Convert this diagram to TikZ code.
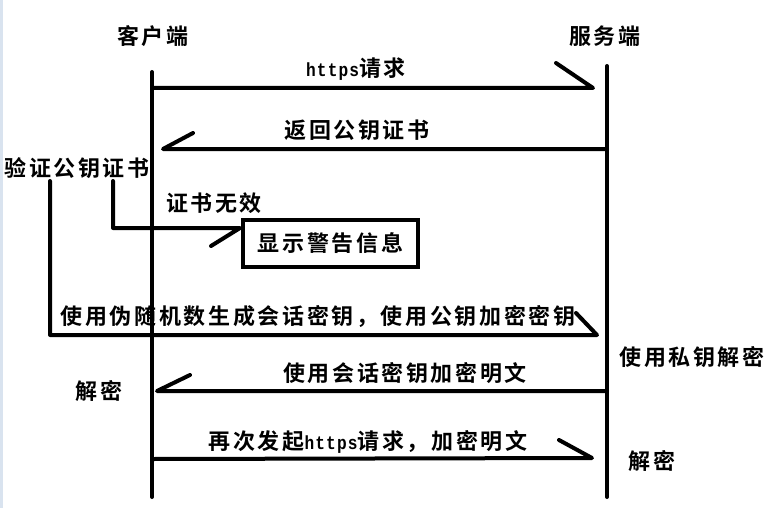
\documentclass[tikz,border=0pt]{standalone}
\usepackage{fontspec}
\setmainfont{Noto Sans CJK SC}[BoldFont=* Bold]
\newfontfamily\latinmono{Liberation Mono}[FakeStretch=0.85, LetterSpace=6]
\usetikzlibrary{positioning}
\definecolor{edgeblue}{HTML}{D9E3EF}
\tikzset{
  lbl/.style={font=\fontsize{22}{24}\selectfont\bfseries\addfontfeatures{LetterSpace=12}, inner sep=0pt},
  wire/.style={line width=4pt, line cap=round, line join=round},
  boxed/.style={draw, line width=3.5pt, minimum width=175pt, minimum height=47pt, inner sep=0pt}
}
\newcommand{\httpsword}{{\latinmono\fontsize{19}{22}\selectfont\bfseries https}}
\begin{document}
\begin{tikzpicture}[x=1pt,y=-1pt]
\useasboundingbox (0,0) rectangle (783,508);
\fill[white] (0,0) rectangle (783,508);
\fill[edgeblue] (0,0) rectangle (2.5,508);
% lifelines
\coordinate (ctop) at (152,72);
\coordinate (cbot) at (152,497);
\coordinate (stop) at (607,66);
\coordinate (sbot) at (607,497);
\draw[wire] (ctop) -- (cbot);
\draw[wire] (stop) -- (sbot);
\node[lbl] (client) at (153,36) {客户端};
\node[lbl] (server) at (605,36) {服务端};
% message 1
\coordinate (m1s) at (152,88);
\coordinate (m1e) at (593,88);
\coordinate (m1b) at (556,63);
\draw[wire] (m1s) -- (m1e) -- (m1b);
\node[lbl] (l1) at (356,69) {\httpsword 请求};
% message 2
\coordinate (m2s) at (607,149);
\coordinate (m2e) at (163,149);
\coordinate (m2b) at (193,133);
\draw[wire] (m2s) -- (m2e) -- (m2b);
\node[lbl] (l2) at (357,130) {返回公钥证书};
% verify
\node[lbl] (verify) at (77,168) {验证公钥证书};
\node[lbl] (invalid) at (214,203) {证书无效};
\node[boxed] (warn) at (330.5,243.5) {};
\node[lbl] (warntext) at (warn.center) {显示警告信息};
\coordinate (v2top) at (113,181);
\coordinate (v2corner) at (113,228);
\coordinate (v2end) at (240,228);
\coordinate (v2b) at (211,246);
\draw[wire] (v2top) -- (v2corner) -- (v2end) -- (v2b);
% message 3
\coordinate (v1top) at (50,181);
\coordinate (v1corner) at (50,335);
\coordinate (m3e) at (597,335);
\coordinate (m3b) at (576,313);
\draw[wire] (v1top) -- (v1corner) -- (m3e) -- (m3b);
\node[lbl] (l3) at (318,317) {使用伪随机数生成会话密钥，使用公钥加密密钥};
\node[lbl] (privdec) at (692,357) {使用私钥解密};
% message 4
\coordinate (m4s) at (607,391);
\coordinate (m4e) at (157,391);
\coordinate (m4b) at (190,375);
\draw[wire] (m4s) -- (m4e) -- (m4b);
\node[lbl] (l4) at (405,373) {使用会话密钥加密明文};
\node[lbl] (dec1) at (99,391) {解密};
% message 5
\coordinate (m5s) at (152,459);
\coordinate (m5e) at (592,458);
\coordinate (m5b) at (559,440);
\draw[wire] (m5s) -- (m5e) -- (m5b);
\node[lbl] (l5) at (368,442) {再次发起\httpsword 请求，加密明文};
\node[lbl] (dec2) at (652,461) {解密};
\end{tikzpicture}
\end{document}
